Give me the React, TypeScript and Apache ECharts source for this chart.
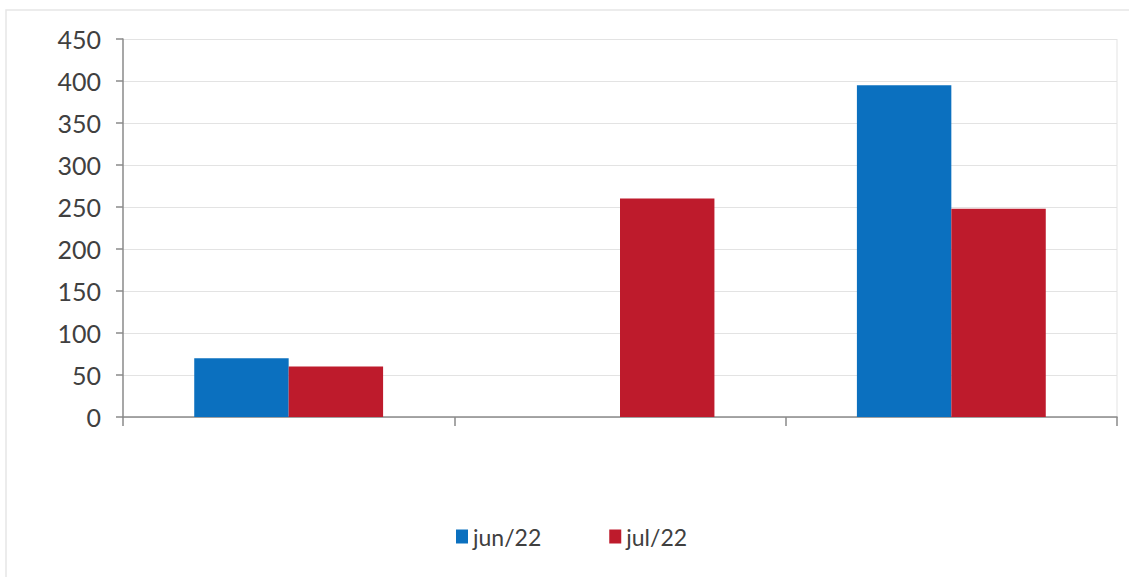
import React, { useEffect, useRef } from "react";
import * as echarts from "echarts";

// Three unnamed groups, two monthly series
const categories = ["A", "B", "C"];
const seriesNames = ["jun/22", "jul/22"];
const jun22 = [70, 0, 395];
const jul22 = [60, 260, 248];
const yTicks = { min: 0, max: 450, interval: 50 };

const BLUE = "#0B70BF";
const RED = "#BE1B2C";
const TEXT = "#404040";
const FONT = "Lato, 'Open Sans', sans-serif";

export default function App() {
  const ref = useRef<HTMLDivElement>(null);

  useEffect(() => {
    if (!ref.current) return;
    const chart = echarts.init(ref.current, undefined, { renderer: "svg" });
    chart.setOption({
      animation: false,
      backgroundColor: "#ffffff",
      textStyle: { fontFamily: FONT },
      grid: { left: 123, right: 12, top: 39, bottom: 160, containLabel: false },
      graphic: [
        {
          type: "rect",
          shape: { x: 6, y: 10, width: 1200, height: 620 },
          style: { fill: "none", stroke: "#e6e6e6", lineWidth: 1.5 },
          silent: true,
        },
        {
          type: "line",
          shape: { x1: 1117, y1: 39, x2: 1117, y2: 417 },
          style: { stroke: "#e3e3e3", lineWidth: 1 },
          silent: true,
        },
      ],
      legend: {
        data: seriesNames,
        left: 451,
        top: 520,
        icon: "rect",
        itemWidth: 12,
        itemHeight: 14,
        itemGap: 68,
        textStyle: { fontSize: 23, color: TEXT, fontFamily: FONT },
      },
      xAxis: {
        type: "category",
        data: categories,
        boundaryGap: true,
        axisLine: { show: true, lineStyle: { color: "#8a8a8a", width: 1.5 } },
        axisTick: { show: true, length: 9, inside: false, lineStyle: { color: "#8a8a8a", width: 1.5 } },
        axisLabel: { show: false },
        splitLine: { show: false },
      },
      yAxis: {
        type: "value",
        min: yTicks.min,
        max: yTicks.max,
        interval: yTicks.interval,
        axisLine: { show: true, lineStyle: { color: "#8a8a8a", width: 1.5 } },
        axisTick: { show: true, length: 7, lineStyle: { color: "#8a8a8a", width: 1.5 } },
        axisLabel: { fontSize: 25, color: TEXT, margin: 22, fontFamily: FONT },
        splitLine: { show: true, lineStyle: { color: "#e3e3e3", width: 1 } },
      },
      series: [
        {
          name: seriesNames[0],
          type: "bar",
          data: jun22,
          barGap: "0%",
          barCategoryGap: "43%",
          itemStyle: { color: BLUE },
        },
        {
          name: seriesNames[1],
          type: "bar",
          data: jul22,
          barGap: "0%",
          barCategoryGap: "43%",
          itemStyle: { color: RED },
        },
      ],
    });
    return () => chart.dispose();
  }, []);

  return (
    <div
      ref={ref}
      style={{ position: "absolute", left: 0, top: 0, width: 1129, height: 577, background: "#fff" }}
    />
  );
}
